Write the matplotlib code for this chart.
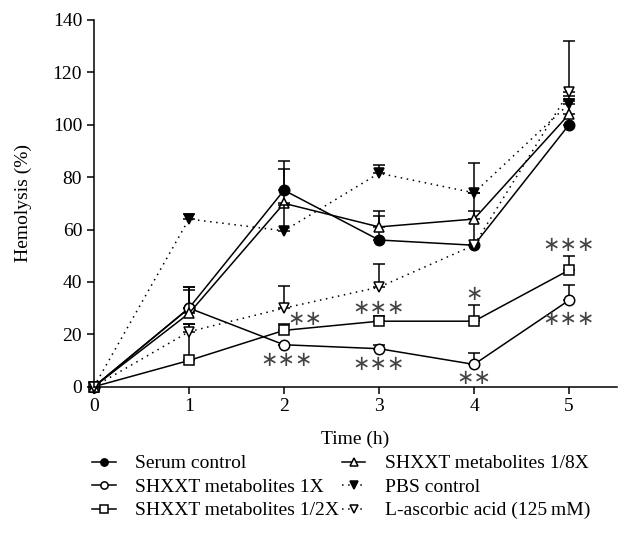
import matplotlib
matplotlib.use('Agg')
import matplotlib.pyplot as plt

# ---------------------------------------------------------
#                      data
# ---------------------------------------------------------

time_h = [0, 1, 2, 3, 4, 5]

serum = [0, 30, 75, 56, 54, 100]
serum_err = [0, 8, 11, 9, 20, 9]

shx_1x = [0, 30, 16, 14.5, 8.5, 33]
shx_1x_err = [0, 8, 0, 1.5, 4.5, 6]

shx_half = [0, 10, 21.5, 25, 25, 44.5]
shx_half_err = [0, 14, 2.5, 2, 6, 5.5]

shx_eighth = [0, 28, 70, 61, 64, 104]
shx_eighth_err = [0, 9, 13, 6, 3, 6]

pbs = [0, 64, 59.5, 81.5, 74, 108]
pbs_err = [0, 2, 10, 3, 11.5, 3]

ascorbic = [0, 21, 30, 38, 54, 112.5]
ascorbic_err = [0, 3, 8.5, 9, 0, 19.5]

# significance marks: (x, y, text)
stars_x = [2.22, 2.03, 3.0, 3.0, 4.0, 4.0, 5.0, 5.0]
stars_y = [26, 10, 30, 8.5, 35.5, 3.3, 54, 25.7]
stars_txt = ['∗∗', '∗∗∗', '∗∗∗', '∗∗∗', '∗', '∗∗', '∗∗∗', '∗∗∗']

series = [
    ('Serum control', serum, serum_err, 'o', 'k', '-'),
    ('SHXXT metabolites 1X', shx_1x, shx_1x_err, 'o', 'w', '-'),
    ('SHXXT metabolites 1/2X', shx_half, shx_half_err, 's', 'w', '-'),
    ('SHXXT metabolites 1/8X', shx_eighth, shx_eighth_err, '^', 'w', '-'),
    ('PBS control', pbs, pbs_err, 'v', 'k', (0, (1, 3))),
    ('L-ascorbic acid (125\u2009mM)', ascorbic, ascorbic_err, 'v', 'w', (0, (1, 3))),
]

# ---------------------------------------------------------
#                      plot
# ---------------------------------------------------------

plt.rcParams['font.family'] = ['Liberation Serif', 'DejaVu Serif']
plt.rcParams['font.size'] = 14

fig = plt.figure(figsize=(6.33, 5.46), dpi=100)
ax = fig.add_axes([0.1485, 0.2918, 0.8255, 0.6716])

handles = []
for label, y, err, m, fc, ls in series:
    ax.errorbar(time_h, y, yerr=[[0] * len(err), err], fmt='none',
                ecolor='k', elinewidth=1.1, capsize=4, capthick=1.1, clip_on=False)
    h, = ax.plot(time_h, y, color='k', linestyle=ls, linewidth=1.1,
                 marker=m, markersize=7.5, markerfacecolor=fc,
                 markeredgecolor='k', markeredgewidth=1.1, label=label, clip_on=False)
    handles.append(h)

for x, y, t in zip(stars_x, stars_y, stars_txt):
    ax.text(x, y, t, ha='center', va='center', fontsize=15, color='#444444',
            family=['DejaVu Sans'])

ax.set_xlim(0, 5.5)
ax.set_ylim(0, 140)
ax.set_xticks(time_h)
ax.set_yticks(range(0, 141, 20))
for s in ['top', 'right']:
    ax.spines[s].set_visible(False)
for s in ['left', 'bottom']:
    ax.spines[s].set_linewidth(1.1)
ax.tick_params(direction='out', length=5, width=1.1, labelsize=14)
ax.set_xlabel('Time (h)', fontsize=14, labelpad=11)
ax.set_ylabel('Hemolysis (%)', fontsize=14, labelpad=15)

fig.legend(handles=handles, loc='upper left', bbox_to_anchor=(0.146, 0.167),
           ncol=2, frameon=False, fontsize=14, handlelength=1.2,
           handletextpad=1.0, labelspacing=0.3, columnspacing=0.15,
           markerscale=0.7, borderaxespad=0, borderpad=0)

fig.savefig('out.png', dpi=100)
